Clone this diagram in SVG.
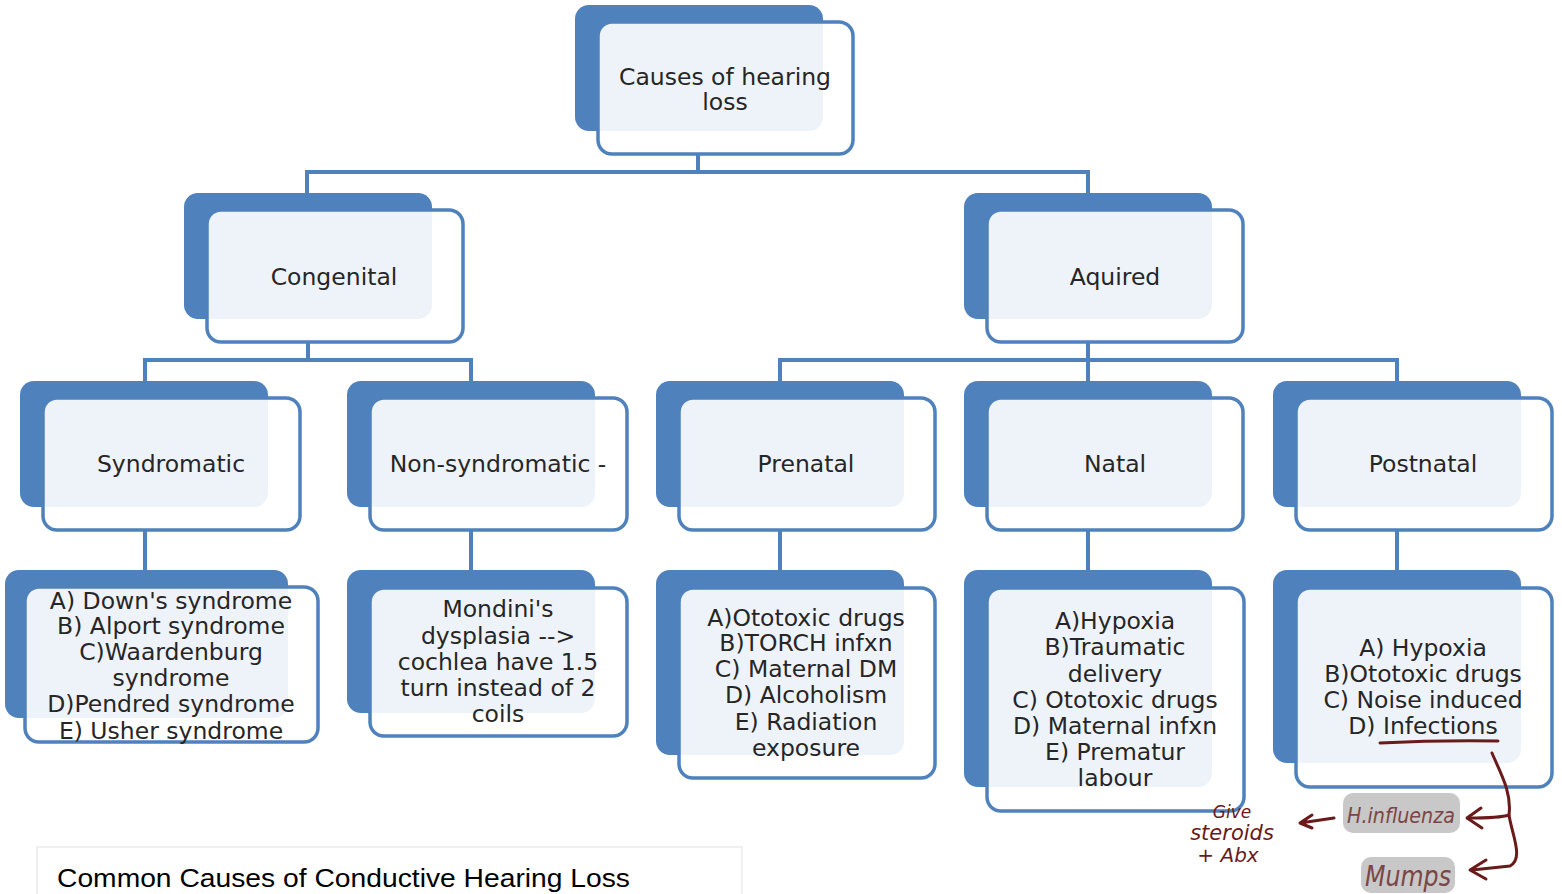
<svg xmlns="http://www.w3.org/2000/svg" width="1562" height="894" viewBox="0 0 1562 894">
<style>
.back{fill:#4f81bd}
.front{fill:#ffffff;fill-opacity:0.9;stroke:#4f81bd;stroke-width:3.5}
.t{font-family:"DejaVu Sans",Verdana,sans-serif;font-size:23.5px;fill:#262626;text-anchor:middle}
.con{fill:none;stroke:#4f81bd;stroke-width:4}
.hw{fill:none;stroke:#6b1a1a;stroke-width:3;stroke-linecap:round;stroke-linejoin:round}
.hwt{font-family:"DejaVu Sans",sans-serif;font-style:italic;fill:#6b1a1a}
</style>
<rect width="1562" height="894" fill="#ffffff"/>
<g id="connectors">
<path class="con" d="M698,154V172M307,193V172H1088V193"/>
<path class="con" d="M308,342V360M145,381V360H471V381"/>
<path class="con" d="M1088,342V381M780,381V360H1397V381"/>
<path class="con" d="M145,530V570M471,530V570M780,530V570M1088,530V570M1397,530V570"/>
</g>
<g id="root">
<rect class="back" x="575" y="5" width="248" height="126" rx="14"/>
<rect class="front" x="598" y="22" width="255" height="132" rx="14"/>
<text class="t" x="725" y="85">Causes of hearing</text>
<text class="t" x="725" y="110">loss</text>
</g>
<g id="congenital">
<rect class="back" x="184" y="193" width="248" height="126" rx="14"/>
<rect class="front" x="207" y="210" width="256" height="132" rx="14"/>
<text class="t" x="334" y="285">Congenital</text>
</g>
<g id="aquired">
<rect class="back" x="964" y="193" width="248" height="126" rx="14"/>
<rect class="front" x="987" y="210" width="256" height="132" rx="14"/>
<text class="t" x="1115" y="285">Aquired</text>
</g>
<g id="syndromatic">
<rect class="back" x="20" y="381" width="248" height="126" rx="14"/>
<rect class="front" x="43" y="398" width="257" height="132" rx="14"/>
<text class="t" x="171" y="472">Syndromatic</text>
</g>
<g id="nonsyndromatic">
<rect class="back" x="347" y="381" width="248" height="126" rx="14"/>
<rect class="front" x="370" y="398" width="257" height="132" rx="14"/>
<text class="t" x="498" y="472">Non-syndromatic -</text>
</g>
<g id="prenatal">
<rect class="back" x="656" y="381" width="248" height="126" rx="14"/>
<rect class="front" x="679" y="398" width="256" height="132" rx="14"/>
<text class="t" x="806" y="472">Prenatal</text>
</g>
<g id="natal">
<rect class="back" x="964" y="381" width="248" height="126" rx="14"/>
<rect class="front" x="987" y="398" width="256" height="132" rx="14"/>
<text class="t" x="1115" y="472">Natal</text>
</g>
<g id="postnatal">
<rect class="back" x="1273" y="381" width="248" height="126" rx="14"/>
<rect class="front" x="1296" y="398" width="256" height="132" rx="14"/>
<text class="t" x="1423" y="472">Postnatal</text>
</g>
<g id="syndromatic-list">
<rect class="back" x="5" y="570" width="283" height="148" rx="14"/>
<rect class="front" x="25" y="587" width="293" height="155" rx="14"/>
<text class="t" x="171" y="609">A) Down's syndrome</text>
<text class="t" x="171" y="634">B) Alport syndrome</text>
<text class="t" x="171" y="660">C)Waardenburg</text>
<text class="t" x="171" y="686">syndrome</text>
<text class="t" x="171" y="712">D)Pendred syndrome</text>
<text class="t" x="171" y="739">E) Usher syndrome</text>
</g>
<g id="nonsyndromatic-list">
<rect class="back" x="347" y="570" width="248" height="143" rx="14"/>
<rect class="front" x="370" y="588" width="257" height="148" rx="14"/>
<text class="t" x="498" y="617">Mondini's</text>
<text class="t" x="498" y="644">dysplasia --&gt;</text>
<text class="t" x="498" y="670">cochlea have 1.5</text>
<text class="t" x="498" y="696">turn instead of 2</text>
<text class="t" x="498" y="722">coils</text>
</g>
<g id="prenatal-list">
<rect class="back" x="656" y="570" width="248" height="185" rx="14"/>
<rect class="front" x="679" y="588" width="256" height="190" rx="14"/>
<text class="t" x="806" y="626">A)Ototoxic drugs</text>
<text class="t" x="806" y="651">B)TORCH infxn</text>
<text class="t" x="806" y="677">C) Maternal DM</text>
<text class="t" x="806" y="703">D) Alcoholism</text>
<text class="t" x="806" y="730">E) Radiation</text>
<text class="t" x="806" y="756">exposure</text>
</g>
<g id="natal-list">
<rect class="back" x="964" y="570" width="248" height="217" rx="14"/>
<rect class="front" x="987" y="588" width="257" height="223" rx="14"/>
<text class="t" x="1115" y="629">A)Hypoxia</text>
<text class="t" x="1115" y="655">B)Traumatic</text>
<text class="t" x="1115" y="682">delivery</text>
<text class="t" x="1115" y="708">C) Ototoxic drugs</text>
<text class="t" x="1115" y="734">D) Maternal infxn</text>
<text class="t" x="1115" y="760">E) Prematur</text>
<text class="t" x="1115" y="786">labour</text>
</g>
<g id="postnatal-list">
<rect class="back" x="1273" y="570" width="248" height="193" rx="14"/>
<rect class="front" x="1296" y="588" width="256" height="199" rx="14"/>
<text class="t" x="1423" y="656">A) Hypoxia</text>
<text class="t" x="1423" y="682">B)Ototoxic drugs</text>
<text class="t" x="1423" y="708">C) Noise induced</text>
<text class="t" x="1423" y="734">D) Infections</text>
</g>
<g id="annotations">
<path class="hw" d="M1380,743 Q1440,740 1498,741"/>
<path class="hw" d="M1492,753 C1500,772 1512,792 1509,815 C1512,835 1524,858 1510,866 L1472,870"/>
<path class="hw" d="M1509,815 C1500,818 1485,818 1468,818"/>
<path class="hw" d="M1481,808 L1467,818 L1482,828"/>
<path class="hw" d="M1486,860 L1470,870 L1486,879"/>
<path class="hw" d="M1334,818 L1300,823 M1312,815 L1300,823 L1312,828"/>
<rect x="1343" y="793" width="117" height="40" rx="10" fill="#c8c8c8"/>
<rect x="1361" y="857" width="94" height="36" rx="10" fill="#c8c8c8"/>
<text class="hwt" x="1401" y="823" font-size="22" text-anchor="middle" style="fill:#7b4545" textLength="108" lengthAdjust="spacingAndGlyphs">H.influenza</text>
<text class="hwt" x="1408" y="886" font-size="28" text-anchor="middle" style="fill:#7b4545" textLength="86" lengthAdjust="spacingAndGlyphs">Mumps</text>
<text class="hwt" x="1232" y="818" font-size="17" text-anchor="middle">Give</text>
<text class="hwt" x="1232" y="840" font-size="21" text-anchor="middle">steroids</text>
<text class="hwt" x="1228" y="862" font-size="20" text-anchor="middle">+ Abx</text>
</g>
<g id="caption">
<rect x="37" y="847" width="705" height="60" fill="#ffffff" stroke="#ececec" stroke-width="1.5"/>
<text x="57" y="887" font-family="Liberation Sans, Arial, sans-serif" font-size="26" fill="#000000" textLength="573" lengthAdjust="spacingAndGlyphs">Common Causes of Conductive Hearing Loss</text>
</g>
</svg>
